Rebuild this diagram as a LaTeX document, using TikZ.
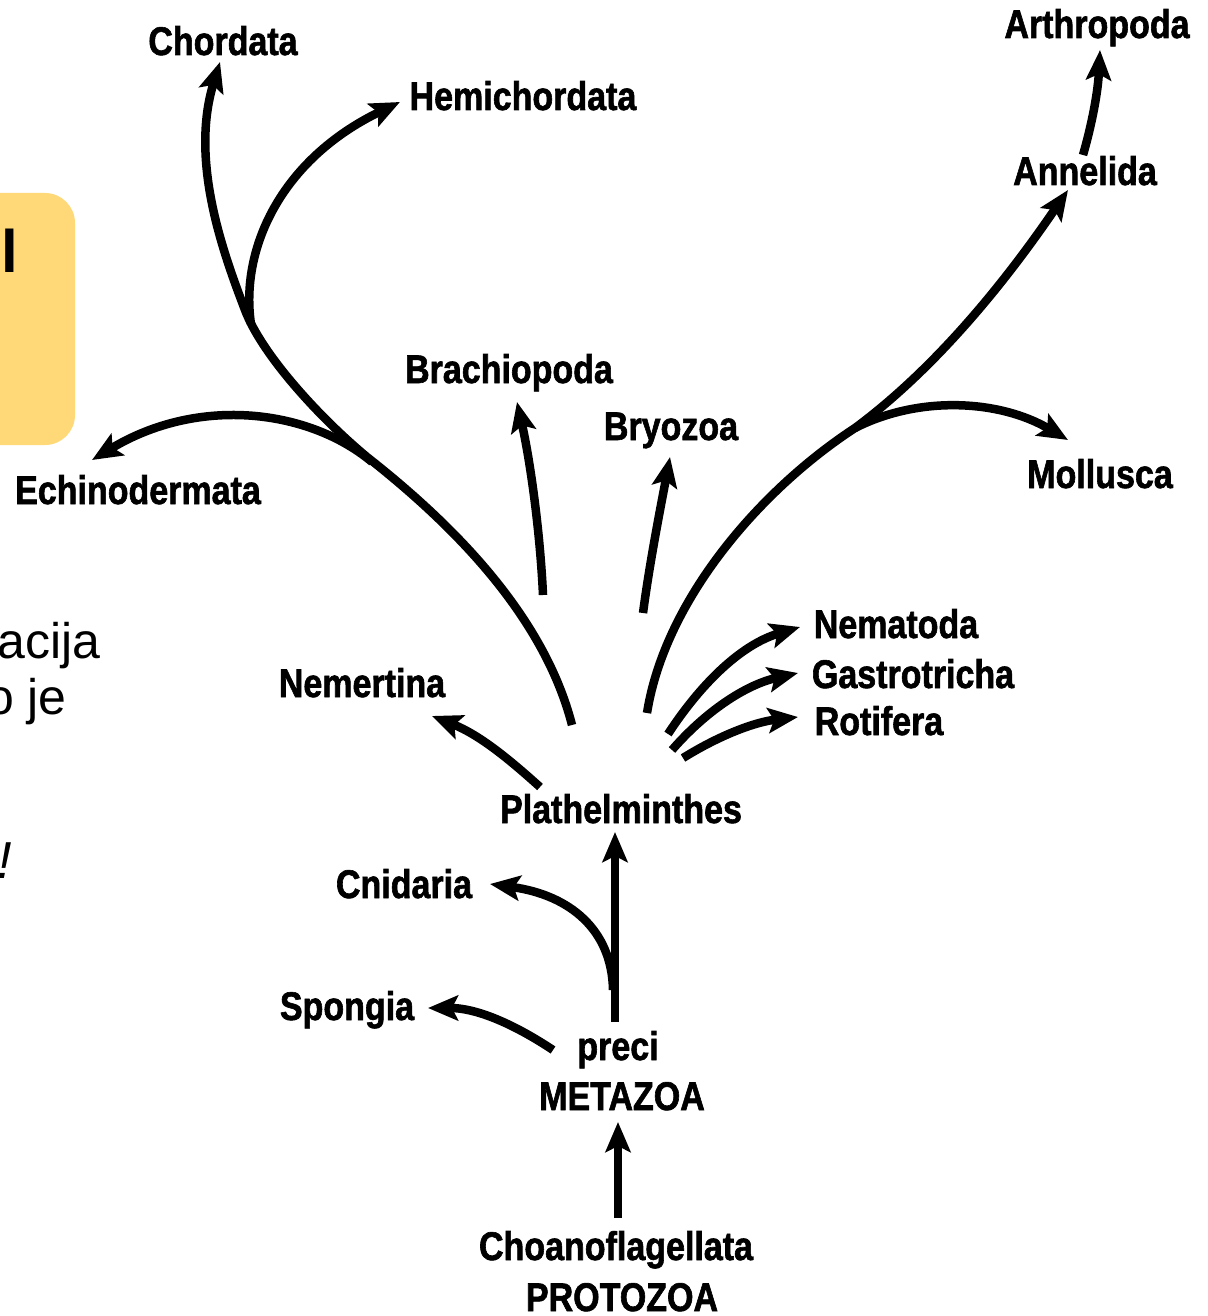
\documentclass[tikz,border=0pt]{standalone}
\usepackage{fontspec}
\newfontfamily\labfont{Liberation Sans}[FakeStretch=0.85,BoldFeatures={FakeBold=1.5}]
\newfontfamily\plainfont{Liberation Sans}
\usetikzlibrary{arrows.meta}
\definecolor{boxyellow}{RGB}{255,217,120}
\begin{document}
\begin{tikzpicture}[x=1pt,y=-1pt,
  lab/.style={font=\labfont\bfseries\fontsize{40}{44}\selectfont, inner sep=0pt, anchor=base},
  side/.style={font=\plainfont\fontsize{50}{56}\selectfont, inner sep=0pt},
  arr/.style={line width=8.5pt, -{Stealth[length=30pt,width=25pt,inset=6pt]}}]
\useasboundingbox (0,0) rectangle (1207,1316);
\fill[white] (0,0) rectangle (1207,1316);
% partial slide elements on the left
\fill[boxyellow, rounded corners=30pt] (-60,193) rectangle (75,445);
\node[font=\plainfont\bfseries\fontsize{60}{66}\selectfont, inner sep=0pt, anchor=base west] (lbold) at (1,272) {l};
\node[side, anchor=base east] (tacija) at (101,658) {acija};
\node[side, anchor=base east] (toje) at (67,714) {o je};
\node[side, font=\plainfont\itshape\fontsize{52}{56}\selectfont, anchor=base west] (texcl) at (-3,878) {!};
% labels
\node[lab] (chordata) at (223,55) {Chordata};
\node[lab] (hemi) at (523,110) {Hemichordata};
\node[lab] (arthro) at (1097,38) {Arthropoda};
\node[lab] (annel) at (1085,185) {Annelida};
\node[lab] (brachio) at (509,383) {Brachiopoda};
\node[lab] (bryo) at (671,440) {Bryozoa};
\node[lab] (mollus) at (1100,488) {Mollusca};
\node[lab] (echino) at (138,504) {Echinodermata};
\node[lab] (nemert) at (362,697) {Nemertina};
\node[lab] (nemato) at (896,638) {Nematoda};
\node[lab] (gastro) at (913,688) {Gastrotricha};
\node[lab] (rotif) at (879,735) {Rotifera};
\node[lab] (plat) at (621,823) {Plathelminthes};
\node[lab] (cnid) at (404,898) {Cnidaria};
\node[lab] (spong) at (347,1020) {Spongia};
\node[lab] (preci) at (618,1060) {preci};
\node[lab] (meta) at (622,1110) {METAZOA};
\node[lab] (choano) at (616,1260) {Choanoflagellata};
\node[lab] (proto) at (622,1311) {PROTOZOA};
% connector coordinates
\coordinate (lroot) at (572,725);
\coordinate (echJ) at (372,462);
\coordinate (hemJ) at (251,324);
\coordinate (tChord) at (220,62);
\coordinate (tHemi) at (400,102);
\coordinate (tEchi) at (92,460);
\coordinate (bBrach) at (543,595);
\coordinate (tBrach) at (517,402);
\coordinate (bBryo) at (643,613);
\coordinate (tBryo) at (670,457);
\coordinate (rroot) at (647,713);
\coordinate (molJ) at (855,428);
\coordinate (tAnnel) at (1068,190);
\coordinate (tMoll) at (1068,440);
\coordinate (bArth) at (1083,155);
\coordinate (tArth) at (1100,50);
\coordinate (sNema) at (668,734);
\coordinate (tNema) at (800,627);
\coordinate (sGast) at (672,750);
\coordinate (tGast) at (798,673);
\coordinate (sRoti) at (683,758);
\coordinate (tRoti) at (798,717);
\coordinate (sNeme) at (540,787);
\coordinate (tNeme) at (432,716);
\coordinate (bPlat) at (615,1022);
\coordinate (tPlat) at (615,832);
\coordinate (cnJ) at (613,990);
\coordinate (tCnid) at (490,884);
\coordinate (sSpon) at (553,1050);
\coordinate (tSpon) at (428,1008);
\coordinate (bMeta) at (618,1218);
\coordinate (tMeta) at (618,1122);
% left trunk to Chordata
\draw[arr] (lroot) .. controls (545,620) and (460,530) .. (367,457)
  .. controls (320,418) and (262,355) .. (245,310)
  .. controls (222,250) and (190,160) .. (tChord);
\draw[arr] (hemJ) .. controls (240,250) and (280,160) .. (tHemi);
\draw[arr] (echJ) .. controls (310,410) and (200,395) .. (tEchi);
\draw[arr] (bBrach) .. controls (540,530) and (530,460) .. (tBrach);
\draw[arr] (bBryo) .. controls (650,560) and (662,500) .. (tBryo);
% right trunk
\draw[arr] (rroot) .. controls (665,600) and (760,490) .. (molJ)
  .. controls (940,365) and (1010,275) .. (tAnnel);
\draw[arr] (molJ) .. controls (920,395) and (1000,400) .. (tMoll);
\draw[arr] (bArth) .. controls (1093,120) and (1098,90) .. (tArth);
% small fan
\draw[arr] (sNema) .. controls (700,685) and (740,645) .. (tNema);
\draw[arr] (sGast) .. controls (705,712) and (745,685) .. (tGast);
\draw[arr] (sRoti) .. controls (720,735) and (755,722) .. (tRoti);
\draw[arr] (sNeme) .. controls (510,760) and (480,735) .. (tNeme);
% lower part
\draw[arr] (bPlat) -- (tPlat);
\draw[arr] (cnJ) .. controls (612,930) and (570,895) .. (tCnid);
\draw[arr] (sSpon) .. controls (520,1028) and (480,1008) .. (tSpon);
\draw[arr] (bMeta) -- (tMeta);
\end{tikzpicture}
\end{document}
